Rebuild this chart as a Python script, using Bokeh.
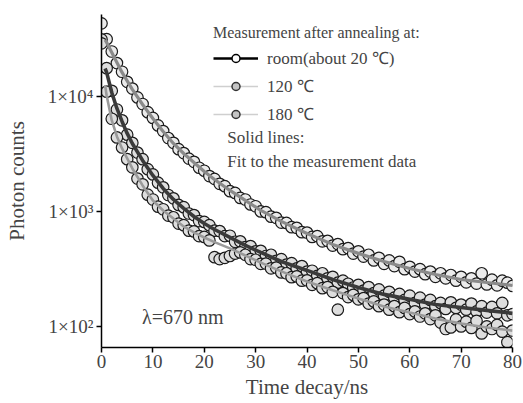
from bokeh.plotting import figure
from bokeh.models import FixedTicker, Legend, LegendItem, Label, Range1d
from bokeh.embed import file_html
from bokeh.resources import INLINE

# ---------------- data ----------------
time_ns = list(range(81))

counts_upper = [43200, 31500, 24600, 19500, 16400, 13400, 11700, 9800, 8600, 7300,
                6500, 5600, 5000, 4350, 3950, 3480, 3220, 2880, 2700, 2400,
                2260, 2030, 1920, 1740, 1660, 1500, 1450, 1310, 1270, 1150,
                1110, 1000, 985, 900, 880, 800, 795, 730, 720, 660,
                655, 600, 610, 550, 555, 505, 520, 470, 480, 430,
                450, 405, 420, 375, 395, 350, 375, 335, 365, 315,
                330, 300, 315, 285, 300, 270, 290, 262, 280, 250,
                270, 242, 262, 236, 290, 232, 255, 228, 250, 240, 225]

counts_middle = [31300, 17600, 11200, 7700, 6200, 4650, 3950, 3250, 2850, 2330,
                 2100, 1780, 1620, 1390, 1300, 1140, 1090, 960, 930, 825,
                 810, 760, 680, 675, 610, 615, 545, 550, 490, 500,
                 450, 455, 410, 420, 372, 385, 345, 355, 320, 335,
                 300, 305, 275, 290, 262, 270, 240, 250, 235, 218,
                 230, 205, 220, 195, 210, 185, 200, 178, 192, 170,
                 185, 160, 178, 155, 170, 150, 160, 142, 162, 145,
                 155, 140, 158, 135, 150, 132, 148, 130, 160, 125, 128]

counts_lower = [29000, 11000, 6400, 4400, 3600, 2850, 2420, 1930, 1720, 1400,
                1270, 1100, 1045, 920, 890, 785, 760, 680, 670, 610,
                600, 560, 400, 385, 395, 410, 430, 440, 420, 385,
                380, 350, 352, 320, 325, 295, 290, 268, 272, 250,
                252, 230, 238, 215, 220, 200, 140, 195, 180, 188,
                172, 176, 158, 165, 150, 155, 140, 150, 133, 145,
                128, 135, 122, 130, 116, 125, 108, 95, 98, 115,
                100, 110, 97, 112, 87, 100, 95, 103, 90, 73, 92]

fit_t = [0.7, 1, 2, 3, 4, 5, 6, 8, 10, 12, 14, 16, 18, 20, 22, 25, 28, 31,
         35, 40, 45, 50, 55, 60, 65, 70, 75, 80]
fit_upper = [31000, 29500, 24150, 19770, 16180, 13650, 11510, 8510, 6440, 4960,
             3900, 3190, 2665, 2228, 1898, 1523, 1247, 1021, 819, 644, 517, 432,
             367, 319, 283, 256, 241, 227]
fit_middle = [17500, 16180, 10835, 7864, 6062, 4768, 3902, 2777, 2056, 1585,
              1272, 1062, 904, 786, 697, 594, 506, 440, 367, 307, 256, 218,
              190, 172, 155, 146, 138, 130]
fit_lower = [12500, 10200, 6185, 4490, 3530, 2890, 2365, 1683, 1246, 1020,
             869, 741, 657, 594, 541, 477, 414, 359, 301, 246, 206, 175,
             149, 132, 117, 106, 98, 92]

x_ticks = [0, 10, 20, 30, 40, 50, 60, 70, 80]
y_ticks = [100, 1000, 10000]
y_tick_labels = ["1×10²", "1×10³", "1×10⁴"]
legend_labels = ["room(about 20 ℃)", "120 ℃", "180 ℃"]

FONT = "Liberation Serif"
NAN = float("nan")

p = figure(width=523, height=403, y_axis_type="log",
           x_range=Range1d(0, 80), y_range=Range1d(65.6, 51600),
           output_backend="svg", toolbar_location=None,
           min_border_left=101, min_border_right=11,
           min_border_top=14, min_border_bottom=56)
p.outline_line_color = None
p.grid.visible = False

# markers
for ys, fill in [(counts_upper, "#ebebeb"), (counts_middle, "#dedede"), (counts_lower, "#dedede")]:
    p.scatter(time_ns, ys, size=11.5, fill_color=fill, line_color="#1a1a1a", line_width=1.2)

# fitted lines
p.line(fit_t, fit_upper, line_color="#8a8a8a", line_width=3.2)
p.line(fit_t, fit_middle, line_color="#3a3a3a", line_width=3.6)
p.line(fit_t, fit_lower, line_color="#9a9a9a", line_width=2.6)

# legend-only renderers (NaN data: nothing is drawn in the plot)
def legend_glyph(line_color, line_width, fill, outline):
    ln = p.line([NAN], [NAN], line_color=line_color, line_width=line_width)
    gap = p.scatter([NAN], [NAN], size=15, fill_color="white", line_color=None)
    mk = p.scatter([NAN], [NAN], size=8.5, fill_color=fill, line_color=outline, line_width=1.5)
    return [ln, gap, mk]

g1 = legend_glyph("black", 2.5, "white", "black")
g2 = legend_glyph("#cfcfcf", 1.5, "#c4c4c4", "#333333")
g3 = legend_glyph("#cfcfcf", 1.5, "#c4c4c4", "#333333")

legend = Legend(items=[LegendItem(label=legend_labels[0], renderers=g1),
                       LegendItem(label=legend_labels[1], renderers=g2),
                       LegendItem(label=legend_labels[2], renderers=g3)],
                location=(112, 222), title="Measurement after annealing at:",
                title_text_font=FONT, title_text_font_size="16px", title_text_font_style="normal",
                label_text_font=FONT, label_text_font_size="17px",
                glyph_width=45, glyph_height=20, label_standoff=9, spacing=5,
                padding=0, margin=0, title_standoff=4,
                border_line_alpha=0, background_fill_alpha=0)
p.add_layout(legend)

for txt, xx, yy, fs in [("Solid lines:", 24.5, 4400, "17px"),
                        ("Fit to the measurement data", 24.5, 2720, "17px"),
                        ("λ=670 nm", 7.9, 120, "20px")]:
    p.add_layout(Label(x=xx, y=yy, text=txt, text_font=FONT, text_font_size=fs,
                       text_baseline="middle", text_align="left"))

for ax in p.axis:
    ax.minor_tick_line_color = None
    ax.major_tick_in = 0
    ax.major_tick_out = 5
    ax.axis_line_width = 1.5
    ax.major_tick_line_width = 1.5
    ax.major_label_text_font = FONT
    ax.major_label_text_font_size = "19px"
    ax.axis_label_text_font = FONT
    ax.axis_label_text_font_size = "21px"
    ax.axis_label_text_font_style = "normal"

p.xaxis.ticker = FixedTicker(ticks=x_ticks)
p.yaxis.ticker = FixedTicker(ticks=y_ticks)
p.yaxis.major_label_overrides = dict(zip(y_ticks, y_tick_labels))
p.xaxis.axis_label = "Time decay/ns"
p.yaxis.axis_label = "Photon counts"
p.xaxis.major_label_standoff = 2
p.xaxis.axis_label_standoff = 4
p.yaxis.major_label_standoff = 3
p.yaxis.axis_label_standoff = 16

open("out.html", "w").write(file_html(p, INLINE))
